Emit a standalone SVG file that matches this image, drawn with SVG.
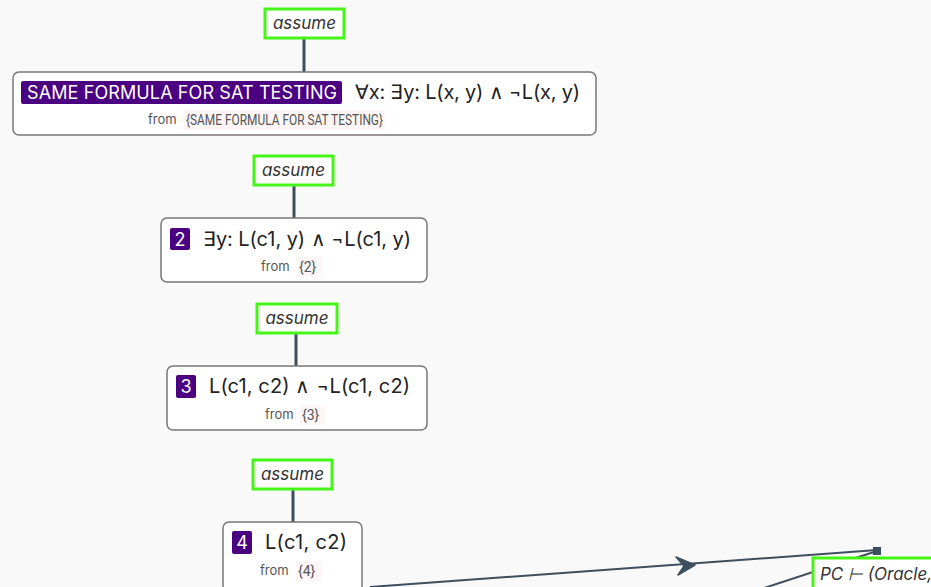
<svg xmlns="http://www.w3.org/2000/svg" width="931" height="587" viewBox="0 0 931 587">
<defs>
<style>
.bg{fill:#f9f9f9}
.asm rect{fill:#fff;stroke:#44f516;stroke-width:3}
.asm text{font-family:Inter,"Noto Sans",sans-serif;font-style:italic;font-size:17px;fill:#333;text-anchor:middle}
.node .box{fill:#fff;stroke:#777;stroke-width:1.5}
.badge{fill:#4b0082}
.bt{font-family:Inter,"Noto Sans",sans-serif;font-size:18px;fill:#fff}
.ft{font-family:Inter,"Noto Sans",sans-serif;font-size:20px;fill:#222}
.from{font-family:Inter,"Noto Sans",sans-serif;font-size:13px;fill:#555}
.sv{font-family:Roboto,"Noto Sans",sans-serif;font-size:14px;fill:#555}
.src{fill:#fdf6f6}
.edge{stroke:#3d4f5f;stroke-width:3;fill:none}
.thin{stroke:#3d4f5f;stroke-width:2;fill:none}
</style>
</defs>
<rect class="bg" x="0" y="0" width="931" height="587"/>
<g id="connectors">
<line class="edge" x1="304" y1="38" x2="304" y2="72"/>
<line class="edge" x1="294" y1="185" x2="294" y2="218"/>
<line class="edge" x1="296" y1="334" x2="296" y2="366"/>
<line class="edge" x1="293" y1="490" x2="293" y2="522"/>
<line class="thin" x1="370" y1="587" x2="877" y2="550"/>
<path d="M695,565 L676,557 L684,566 L678,575 Z" fill="#3d4f5f" stroke="#3d4f5f" stroke-width="1.5" stroke-linejoin="round"/>
<line class="thin" x1="752" y1="592" x2="877" y2="551"/>
<rect x="873" y="547" width="8" height="8" fill="#3d4f5f"/>
</g>
<g id="assume1" class="asm"><rect x="265" y="9" width="79" height="29"/><text x="304.5" y="29">assume</text></g>
<g id="assume2" class="asm"><rect x="254" y="156" width="79" height="29"/><text x="293.5" y="176">assume</text></g>
<g id="assume3" class="asm"><rect x="257" y="304" width="80" height="29"/><text x="297" y="324">assume</text></g>
<g id="assume4" class="asm"><rect x="253" y="460" width="79" height="29"/><text x="292.5" y="480">assume</text></g>
<g id="node1" class="node">
<rect class="box" x="13" y="72" width="583" height="63" rx="6"/>
<rect class="badge" x="21" y="81" width="321" height="23" rx="2"/>
<text class="bt" x="27" y="99" textLength="310">SAME FORMULA FOR SAT TESTING</text>
<text class="ft" x="355" y="99" textLength="225">∀x: ∃y: L(x, y) ∧ ¬L(x, y)</text>
<text class="from" x="148" y="124">from</text>
<rect class="src" x="184" y="110" width="201" height="20"/>
<text class="sv" x="186" y="125" textLength="197" lengthAdjust="spacingAndGlyphs">{SAME FORMULA FOR SAT TESTING}</text>
</g>
<g id="node2" class="node">
<rect class="box" x="161" y="218" width="266" height="64" rx="6"/>
<rect class="badge" x="170" y="228" width="20" height="22" rx="2"/>
<text class="bt" x="180" y="246" text-anchor="middle">2</text>
<text class="ft" x="203" y="246" textLength="208">∃y: L(c1, y) ∧ ¬L(c1, y)</text>
<text class="from" x="261" y="271">from</text>
<rect class="src" x="297" y="257" width="26" height="20"/>
<text class="sv" x="299" y="272">{2}</text>
</g>
<g id="node3" class="node">
<rect class="box" x="167" y="366" width="260" height="64" rx="6"/>
<rect class="badge" x="176" y="375" width="20" height="23" rx="2"/>
<text class="bt" x="186" y="393" text-anchor="middle">3</text>
<text class="ft" x="209" y="393" textLength="201">L(c1, c2) ∧ ¬L(c1, c2)</text>
<text class="from" x="265" y="419">from</text>
<rect class="src" x="300" y="405" width="25" height="20"/>
<text class="sv" x="302" y="420">{3}</text>
</g>
<g id="node4" class="node">
<rect class="box" x="223" y="522" width="139" height="70" rx="6"/>
<rect class="badge" x="232" y="531" width="20" height="23" rx="2"/>
<text class="bt" x="242" y="549" text-anchor="middle">4</text>
<text class="ft" x="265" y="549" textLength="82">L(c1, c2)</text>
<text class="from" x="260" y="575">from</text>
<rect class="src" x="296" y="561" width="26" height="20"/>
<text class="sv" x="298" y="576">{4}</text>
</g>
<g id="label-pc" class="asm">
<rect x="813" y="558" width="130" height="32"/>
<text x="820" y="580" style="text-anchor:start">PC ⊢ (Oracle,</text>
</g>
</svg>
